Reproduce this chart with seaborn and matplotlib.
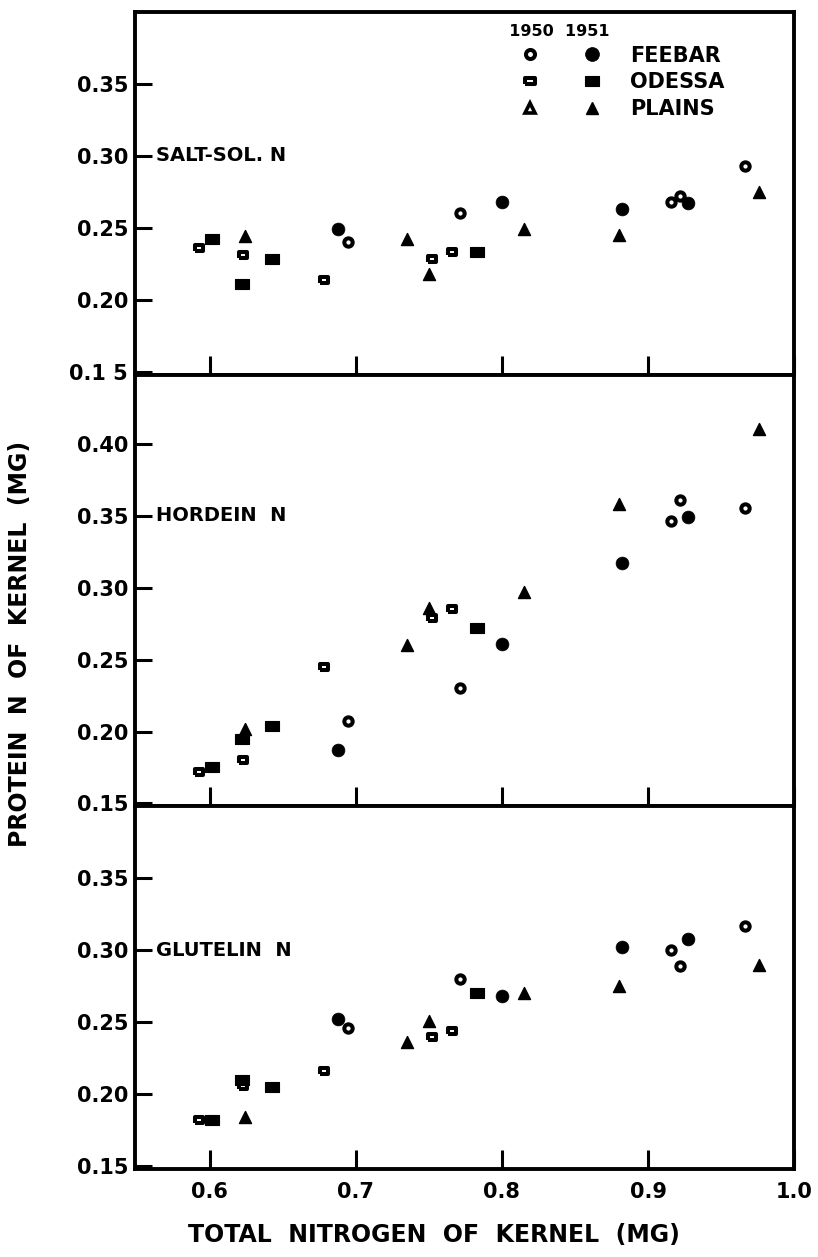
import pandas as pd
import matplotlib
matplotlib.use('Agg')
import matplotlib.pyplot as plt
from matplotlib.lines import Line2D
from matplotlib.legend_handler import HandlerTuple
import seaborn as sns

sns.set_style('white')
plt.rcParams['font.family'] = ['DejaVu Sans']
plt.rcParams['font.weight'] = 'bold'
for k in ['text.color', 'axes.labelcolor', 'xtick.color', 'ytick.color']:
    plt.rcParams[k] = 'black'

# Total nitrogen of kernel (mg) for each variety / year
feebar50_x = [0.695, 0.771, 0.916, 0.922, 0.966]
feebar51_x = [0.688, 0.800, 0.882, 0.927]
odessa50_x = [0.593, 0.623, 0.678, 0.752, 0.766]
odessa51_x = [0.602, 0.622, 0.643, 0.783]
plains51_x = [0.624, 0.735, 0.750, 0.815, 0.880, 0.976]

# Salt-soluble N
salt_feebar50 = [0.240, 0.260, 0.268, 0.272, 0.293]
salt_feebar51 = [0.249, 0.268, 0.263, 0.267]
salt_odessa50 = [0.236, 0.231, 0.214, 0.228, 0.233]
salt_odessa51 = [0.242, 0.211, 0.228, 0.233]
salt_plains51 = [0.244, 0.242, 0.218, 0.249, 0.245, 0.275]

# Hordein N
hord_feebar50 = [0.207, 0.230, 0.346, 0.361, 0.355]
hord_feebar51 = [0.187, 0.261, 0.317, 0.349]
hord_odessa50 = [0.172, 0.180, 0.245, 0.279, 0.285]
hord_odessa51 = [0.175, 0.195, 0.204, 0.272]
hord_plains51 = [0.202, 0.260, 0.286, 0.297, 0.358, 0.410]

# Glutelin N
glut_feebar50 = [0.246, 0.280, 0.300, 0.289, 0.317]
glut_feebar51 = [0.252, 0.268, 0.302, 0.308]
glut_odessa50 = [0.182, 0.206, 0.216, 0.240, 0.244]
glut_odessa51 = [0.182, 0.210, 0.205, 0.270]
glut_plains51 = [0.184, 0.236, 0.251, 0.270, 0.275, 0.290]

panels = ['SALT-SOL. N', 'HORDEIN  N', 'GLUTELIN  N']
panel_ylims = [(0.148, 0.400), (0.148, 0.448), (0.148, 0.400)]
panel_yticks = [[0.15, 0.20, 0.25, 0.30, 0.35],
                [0.15, 0.20, 0.25, 0.30, 0.35, 0.40],
                [0.15, 0.20, 0.25, 0.30, 0.35]]
panel_yticklabels = [['0.1 5', '0.20', '0.25', '0.30', '0.35'],
                     ['0.15', '0.20', '0.25', '0.30', '0.35', '0.40'],
                     ['0.15', '0.20', '0.25', '0.30', '0.35']]
panel_label_y = [0.30, 0.35, 0.30]
xticks = [0.6, 0.7, 0.8, 0.9, 1.0]
xticklabels = ['0.6', '0.7', '0.8', '0.9', '1.0']

series_x = {
    ('FEEBAR', 1950): feebar50_x, ('FEEBAR', 1951): feebar51_x,
    ('ODESSA', 1950): odessa50_x, ('ODESSA', 1951): odessa51_x,
    ('PLAINS', 1951): plains51_x,
}
series_y = {
    'SALT-SOL. N': [salt_feebar50, salt_feebar51, salt_odessa50, salt_odessa51, salt_plains51],
    'HORDEIN  N': [hord_feebar50, hord_feebar51, hord_odessa50, hord_odessa51, hord_plains51],
    'GLUTELIN  N': [glut_feebar50, glut_feebar51, glut_odessa50, glut_odessa51, glut_plains51],
}

rows = []
for panel in panels:
    for key, ys in zip(series_x.keys(), series_y[panel]):
        for xv, yv in zip(series_x[key], ys):
            rows.append({'panel': panel, 'variety': key[0], 'year': key[1],
                         'total_n': xv, 'protein_n': yv})
df = pd.DataFrame(rows)

# wide rectangle for Odessa
rect = [(-1, -0.72), (1, -0.72), (1, 0.72), (-1, 0.72), (-1, -0.72)]
styles = {
    ('FEEBAR', 1950): dict(marker='o', s=36, facecolor='white', edgecolor='black', linewidth=2.9),
    ('FEEBAR', 1951): dict(marker='o', s=85, facecolor='black', edgecolor='black', linewidth=0.5),
    ('ODESSA', 1950): dict(marker=rect, s=34, facecolor='white', edgecolor='black', linewidth=2.9),
    ('ODESSA', 1951): dict(marker=rect, s=90, facecolor='black', edgecolor='black', linewidth=0.8),
    ('PLAINS', 1951): dict(marker='^', s=75, facecolor='black', edgecolor='black', linewidth=1.0),
}

fig = plt.figure(figsize=(8.18, 12.57), dpi=100)
gs = fig.add_gridspec(3, 1, height_ratios=[lo_hi[1] - lo_hi[0] for lo_hi in panel_ylims],
                      left=0.165, right=0.971, top=0.9905, bottom=0.070, hspace=0)
axes = [fig.add_subplot(gs[i]) for i in range(3)]

for i, (ax, panel) in enumerate(zip(axes, panels)):
    sub = df[df['panel'] == panel]
    for (variety, year), st in styles.items():
        d = sub[(sub['variety'] == variety) & (sub['year'] == year)]
        sns.scatterplot(data=d, x='total_n', y='protein_n', ax=ax, color='black',
                        legend=False, zorder=3, **st)
    ax.set_xlim(0.549, 1.0)
    ax.set_ylim(*panel_ylims[i])
    ax.set_yticks(panel_yticks[i])
    ax.set_yticklabels(panel_yticklabels[i])
    ax.set_xticks(xticks)
    ax.set_xlabel('')
    ax.set_ylabel('')
    for sp in ax.spines.values():
        sp.set_linewidth(2.8)
        sp.set_color('black')
    ax.tick_params(axis='y', direction='in', length=12, width=2.2, pad=5,
                   labelsize=15, left=True)
    ax.tick_params(axis='x', direction='in', length=14, width=2.2, pad=9,
                   labelsize=15, bottom=True)
    if i < 2:
        ax.set_xticklabels([])
    else:
        ax.set_xticklabels(xticklabels)
    ax.text(0.032, panel_label_y[i], panel, transform=ax.get_yaxis_transform(),
            fontsize=14, fontweight='bold', va='center', ha='left')

# key: open = 1950, filled = 1951
def mk(marker, ms, filled, mew):
    return Line2D([], [], ls='', marker=marker, markersize=ms,
                  markerfacecolor='black' if filled else 'white',
                  markeredgecolor='black', markeredgewidth=mew)

handles = [
    (mk('o', 6.5, False, 2.9), mk('o', 10, True, 0.5)),
    (mk(rect, 6.5, False, 2.9), mk(rect, 10, True, 0.8)),
    (mk('^', 6.5, False, 2.6), mk('^', 9, True, 1.0)),
]
leg = axes[0].legend(handles, ['FEEBAR', 'ODESSA', 'PLAINS'],
                     handler_map={tuple: HandlerTuple(ndivide=None, pad=0)},
                     title='  1950  1951', title_fontproperties={'size': 11.5, 'weight': 'bold'},
                     alignment='left', loc='upper left', bbox_to_anchor=(0.526, 1.013),
                     borderaxespad=0, borderpad=0.8, frameon=False, fontsize=15,
                     handlelength=6.0, handletextpad=0.3, labelspacing=0.32)

fig.text(0.024, 0.488, 'PROTEIN  N  OF  KERNEL  (MG)', rotation=90, ha='center',
         va='center', fontsize=17, fontweight='bold')
fig.text(0.53, 0.0175, 'TOTAL  NITROGEN  OF  KERNEL  (MG)', ha='center', va='center',
         fontsize=17, fontweight='bold')

fig.savefig('out.png', dpi=100)
